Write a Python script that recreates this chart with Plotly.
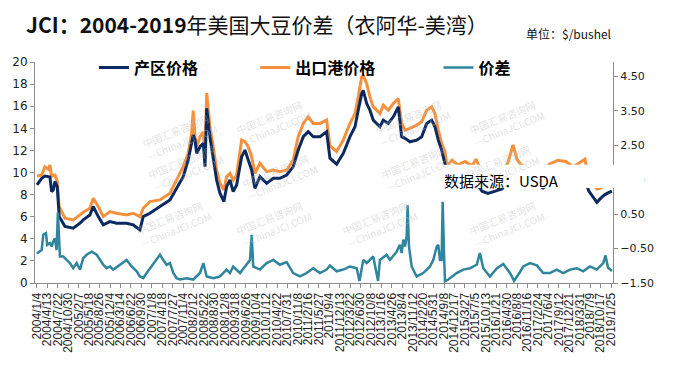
import plotly.graph_objects as go
import pandas as pd

# ---------------- data ----------------
price_dates = [
    "2004-01-04", "2004-02-18", "2004-03-20", "2004-04-21", "2004-05-07", "2004-05-23",
    "2004-06-08", "2004-06-24", "2004-07-16", "2004-08-04", "2004-09-28", "2004-12-16",
    "2005-02-19", "2005-03-22", "2005-05-25", "2005-06-26", "2005-08-13", "2005-09-30",
    "2005-12-03", "2006-02-05", "2006-05-12", "2006-07-14", "2006-09-16", "2006-10-18",
    "2006-12-21", "2007-03-27", "2007-07-01", "2007-09-03", "2007-11-05", "2007-12-23",
    "2008-01-25", "2008-02-09", "2008-02-26", "2008-03-13", "2008-04-14", "2008-05-16",
    "2008-06-01", "2008-06-17", "2008-07-18", "2008-08-19", "2008-09-20", "2008-10-22",
    "2008-11-29", "2008-12-25", "2009-01-26", "2009-02-26", "2009-03-31", "2009-05-18",
    "2009-06-19", "2009-07-20", "2009-08-22", "2009-09-22", "2009-11-09", "2010-01-13",
    "2010-03-17", "2010-05-20", "2010-07-23", "2010-09-24", "2010-11-11", "2010-12-30",
    "2011-02-15", "2011-04-04", "2011-06-07", "2011-08-10", "2011-09-11", "2011-11-14",
    "2012-01-17", "2012-03-21", "2012-05-08", "2012-06-08", "2012-07-11", "2012-07-26",
    "2012-08-28", "2012-09-28", "2012-10-30", "2012-12-01", "2013-01-02", "2013-02-03",
    "2013-03-23", "2013-05-10", "2013-06-27", "2013-07-29", "2013-08-30", "2013-10-17",
    "2013-12-20", "2014-02-06", "2014-03-26", "2014-05-13", "2014-06-13", "2014-07-15",
    "2014-08-16", "2014-09-17", "2014-10-06", "2014-11-23", "2015-01-20", "2015-03-28",
    "2015-06-03", "2015-07-11", "2015-09-07", "2015-11-03", "2016-01-09", "2016-03-16",
    "2016-05-13", "2016-06-30", "2016-08-07", "2016-09-14", "2016-11-20", "2017-01-26",
    "2017-04-13", "2017-06-19", "2017-09-04", "2017-11-19", "2018-01-25", "2018-04-03",
    "2018-05-20", "2018-06-28", "2018-08-05", "2018-09-12", "2018-10-21", "2018-11-28",
    "2019-01-05", "2019-02-03",
]
producer_price = [  # 产区价格
    8.87, 9.47, 9.68, 9.62, 9.60, 8.27, 8.42, 9.17, 8.72, 6.01, 5.11, 4.96,
    5.41, 5.71, 6.16, 6.92, 6.01, 5.26, 5.56, 5.41, 5.41, 5.26, 4.81, 6.01,
    6.31, 6.92, 7.52, 8.57, 9.62, 11.13, 12.63, 13.40, 12.93, 11.73, 12.33, 12.63,
    10.53, 15.80, 13.24, 11.13, 9.32, 8.12, 7.37, 8.72, 9.32, 8.27, 8.87, 11.43,
    12.03, 11.13, 10.23, 8.57, 9.62, 9.02, 9.47, 9.47, 9.77, 10.53, 12.03, 13.24,
    13.69, 13.24, 13.24, 13.69, 11.30, 10.75, 11.73, 13.24, 14.14, 15.64, 17.14, 17.44,
    16.24, 15.64, 14.74, 14.44, 14.14, 14.74, 14.44, 15.04, 15.94, 13.24, 13.09, 12.78,
    12.93, 13.24, 14.44, 14.74, 14.14, 12.93, 12.03, 10.80, 8.70, 9.20, 9.40, 9.30,
    9.00, 9.10, 8.30, 8.10, 8.30, 8.50, 9.20, 10.60, 10.00, 9.30, 9.00, 9.10,
    8.60, 9.00, 9.40, 9.30, 9.00, 9.10, 9.20, 8.30, 7.80, 7.30, 7.70, 8.00,
    8.20, 8.30,
]
export_price = [  # 出口港价格
    9.68, 9.78, 10.52, 10.30, 10.68, 9.62, 9.78, 9.78, 9.17, 6.91, 5.86, 5.71,
    6.16, 6.40, 6.76, 7.67, 6.92, 6.01, 6.46, 6.31, 6.16, 6.31, 6.01, 6.76,
    7.37, 7.52, 8.12, 9.32, 10.53, 11.73, 13.54, 15.60, 13.24, 12.33, 13.24, 13.69,
    11.43, 17.20, 14.14, 12.33, 10.23, 9.02, 8.42, 9.62, 9.92, 9.32, 9.77, 12.93,
    12.78, 12.33, 11.43, 9.92, 10.83, 10.08, 10.23, 10.08, 10.23, 11.13, 13.24, 14.44,
    15.04, 14.44, 14.44, 14.74, 12.40, 11.90, 12.93, 14.44, 15.34, 16.84, 18.64, 18.79,
    18.04, 16.84, 15.94, 15.64, 15.34, 16.09, 15.64, 16.24, 16.69, 14.44, 13.84, 13.99,
    14.29, 14.59, 15.64, 15.94, 15.34, 13.84, 12.63, 11.90, 10.60, 11.10, 10.70, 11.00,
    10.60, 11.20, 10.00, 9.60, 9.80, 10.00, 10.90, 12.50, 11.20, 10.70, 10.40, 10.50,
    10.20, 10.80, 11.10, 11.00, 10.50, 10.90, 11.20, 9.40, 9.00, 8.50, 8.60, 9.00,
    9.20, 9.30,
]

spread_dates = [
    "2004-01-04", "2004-01-16", "2004-02-18", "2004-03-04", "2004-03-30", "2004-04-11",
    "2004-05-07", "2004-05-23", "2004-06-08", "2004-06-24", "2004-07-10", "2004-07-22",
    "2004-08-11", "2004-09-12", "2004-10-14", "2004-11-15", "2004-12-16", "2005-01-18",
    "2005-02-19", "2005-03-22", "2005-04-24", "2005-06-11", "2005-07-29", "2005-08-30",
    "2005-09-30", "2005-11-02", "2005-12-03", "2006-01-04", "2006-03-09", "2006-05-12",
    "2006-06-29", "2006-08-16", "2006-09-16", "2006-10-18", "2006-11-20", "2007-01-07",
    "2007-02-23", "2007-03-27", "2007-04-28", "2007-05-30", "2007-07-01", "2007-08-02",
    "2007-09-03", "2007-10-05", "2007-12-08", "2008-02-09", "2008-04-14", "2008-05-16",
    "2008-06-17", "2008-08-19", "2008-10-22", "2008-12-25", "2009-01-26", "2009-02-26",
    "2009-05-02", "2009-07-05", "2009-08-06", "2009-08-22", "2009-09-06", "2009-11-09",
    "2010-01-13", "2010-03-17", "2010-05-20", "2010-07-23", "2010-09-24", "2010-11-28",
    "2011-01-31", "2011-04-04", "2011-06-07", "2011-08-10", "2011-09-11", "2011-11-14",
    "2012-01-17", "2012-03-21", "2012-05-24", "2012-06-20", "2012-07-26", "2012-08-28",
    "2012-10-30", "2012-12-15", "2013-01-02", "2013-03-07", "2013-04-08", "2013-06-11",
    "2013-07-13", "2013-07-29", "2013-08-14", "2013-08-30", "2013-09-15", "2013-09-24",
    "2013-10-07", "2013-11-02", "2013-12-20", "2014-02-21", "2014-04-26", "2014-05-28",
    "2014-06-30", "2014-07-15", "2014-07-31", "2014-08-16", "2014-08-26", "2014-09-08",
    "2014-09-17", "2014-10-19", "2015-01-07", "2015-03-12", "2015-05-15", "2015-07-18",
    "2015-08-18", "2015-09-19", "2015-11-22", "2016-01-26", "2016-03-29", "2016-06-01",
    "2016-07-10", "2016-09-05", "2016-10-06", "2016-12-10", "2017-02-12", "2017-04-16",
    "2017-06-19", "2017-08-22", "2017-10-25", "2017-12-28", "2018-03-02", "2018-05-04",
    "2018-07-07", "2018-09-10", "2018-11-12", "2018-12-03", "2018-12-27", "2019-02-03",
]
spread = [  # 价差 (right axis)
    -0.65, -0.61, -0.54, -0.10, -0.05, -0.39, -0.34, -0.44, -0.29, -0.20, -0.54, 0.55,
    -0.73, -0.73, -0.83, -0.92, -1.07, -0.92, -1.11, -0.78, -0.68, -0.59, -0.68, -0.83,
    -0.97, -1.07, -1.02, -1.11, -0.97, -0.83, -1.02, -1.16, -1.31, -1.36, -1.21, -1.02,
    -0.83, -0.68, -0.83, -0.97, -0.92, -1.21, -1.36, -1.40, -1.36, -1.40, -1.21, -0.92,
    -1.31, -1.36, -1.31, -1.11, -1.21, -1.02, -1.21, -0.97, -0.83, -0.10, -1.02, -1.11,
    -0.92, -0.83, -0.97, -0.89, -1.21, -1.31, -1.21, -1.07, -1.21, -1.11, -0.99, -1.16,
    -1.11, -1.02, -1.07, -1.44, -0.83, -0.92, -0.73, -1.44, -0.83, -0.68, -0.83, -0.59,
    -0.39, -0.63, -0.24, -0.44, -0.15, 0.76, -0.44, -1.02, -1.31, -1.21, -1.02, -0.83,
    -0.44, -0.39, -0.83, -0.83, 0.86, -0.63, -1.45, -1.40, -1.21, -1.11, -1.07, -0.97,
    -0.63, -1.07, -1.31, -1.08, -0.95, -1.21, -1.44, -1.18, -1.02, -0.92, -0.99, -1.21,
    -1.21, -1.11, -1.21, -1.11, -1.07, -1.16, -1.02, -1.11, -0.92, -0.70, -1.05, -1.15,
]

tick_labels = [
    "2004/1/4", "2004/4/13", "2004/7/22", "2004/10/30", "2005/2/7", "2005/5/18",
    "2005/8/26", "2005/12/4", "2006/3/14", "2006/6/22", "2006/9/30", "2007/1/8",
    "2007/4/18", "2007/7/27", "2007/11/4", "2008/2/12", "2008/5/22", "2008/8/30",
    "2008/12/8", "2009/3/18", "2009/6/26", "2009/10/4", "2010/1/12", "2010/4/22",
    "2010/7/31", "2010/11/8", "2011/2/16", "2011/5/27", "2011/9/4", "2011/12/13",
    "2012/3/22", "2012/6/30", "2012/10/8", "2013/1/16", "2013/4/26", "2013/8/4",
    "2013/11/12", "2014/2/20", "2014/5/31", "2014/9/8", "2014/12/17", "2015/3/27",
    "2015/7/5", "2015/10/13", "2016/1/21", "2016/4/30", "2016/8/8", "2016/11/16",
    "2017/2/24", "2017/6/4", "2017/9/12", "2017/12/21", "2018/3/31", "2018/7/9",
    "2018/10/17", "2019/1/25",
]
left_ticks = [0, 2, 4, 6, 8, 10, 12, 14, 16, 18, 20]
right_ticks = [-1.5, -0.5, 0.5, 1.5, 2.5, 3.5, 4.5]

# ---------------- figure ----------------
NAVY = "#0c2a5f"
ORANGE = "#f5913c"
TEAL = "#2f849e"
CJK = "Noto Sans CJK SC"
AX = "#8c8c8c"

tick_vals = pd.to_datetime(tick_labels, format="%Y/%m/%d")

fig = go.Figure()
fig.add_trace(go.Scatter(x=price_dates, y=export_price, name="出口港价格", mode="lines",
                         line=dict(color=ORANGE, width=3), legend="legend2"))
fig.add_trace(go.Scatter(x=price_dates, y=producer_price, name="产区价格", mode="lines",
                         line=dict(color=NAVY, width=3), legend="legend"))
fig.add_trace(go.Scatter(x=spread_dates, y=spread, name="价差", mode="lines",
                         line=dict(color=TEAL, width=2.5), yaxis="y2", legend="legend3"))

legend_common = dict(yanchor="middle", xanchor="left", y=0.975,
                     bgcolor="rgba(0,0,0,0)", borderwidth=0,
                     font=dict(family=CJK, size=16, color="#000000", weight="bold"))
annotations = [
    dict(text="<b>JCI：2004-2019</b>年美国大豆价差（衣阿华-美湾）", xref="paper", yref="paper",
         x=-0.019, y=1.170, xanchor="left", yanchor="middle", showarrow=False,
         font=dict(family=CJK, size=21, color="#111111")),
    dict(text="单位：$/bushel", xref="paper", yref="paper", x=0.846, y=1.131,
         xanchor="left", yanchor="middle", showarrow=False,
         font=dict(family=CJK, size=12, color="#111111")),
]

# faint watermark
wm_pos = [(0.17, 0.80), (0.41, 0.86), (0.65, 0.86), (0.89, 0.86),
          (0.18, 0.52), (0.42, 0.48), (0.66, 0.52), (0.88, 0.52),
          (0.16, 0.13), (0.41, 0.13), (0.67, 0.13), (0.89, 0.13)]
for wx, wy in wm_pos:
    annotations.append(dict(text="中国汇易咨询网<br>  —ChinaJCI.COM", xref="paper", yref="paper",
                            x=wx, y=wy, showarrow=False, textangle=-22,
                            font=dict(family=CJK, size=10, color="rgba(190,190,190,0.45)")))

annotations.append(dict(text="数据来源：USDA", xref="paper", yref="paper", x=0.704, y=0.462,
                        xanchor="left", yanchor="middle", showarrow=False,
                        font=dict(family=CJK, size=15, color="#000000")))

fig.update_layout(
    width=679, height=370,
    margin=dict(l=35, r=66, t=62, b=87),
    paper_bgcolor="white", plot_bgcolor="white",
    showlegend=True,
    legend=dict(x=0.102, **legend_common),
    legend2=dict(x=0.381, **legend_common),
    legend3=dict(x=0.698, **legend_common),
    xaxis=dict(type="date", range=["2003-12-16", "2019-02-13"],
               tickmode="array", tickvals=tick_vals, ticktext=tick_labels,
               tickangle=-90, ticks="outside", ticklen=4, tickcolor=AX,
               showline=True, linecolor=AX, showgrid=False, zeroline=False,
               tickfont=dict(family="Liberation Sans", size=12, color="#222222")),
    yaxis=dict(range=[0, 20], tickmode="array", tickvals=left_ticks,
               ticks="outside", ticklen=4, tickcolor=AX,
               showline=True, linecolor=AX, showgrid=False, zeroline=False,
               tickfont=dict(family="DejaVu Sans", size=12, color="#222222")),
    yaxis2=dict(range=[-1.5, 4.92], overlaying="y", side="right", tickmode="array",
                tickvals=right_ticks, tickformat=".2f",
                ticks="outside", ticklen=4, tickcolor=AX,
                showline=True, linecolor=AX, showgrid=False, zeroline=False,
                tickfont=dict(family="DejaVu Sans", size=11, color="#222222")),
    annotations=annotations,
    shapes=[dict(type="rect", xref="paper", yref="paper", x0=0.694, x1=1.054,
                 y0=0.430, y1=0.535, fillcolor="white", line=dict(width=0),
                 layer="above")],
)

fig.write_html("out.html", config={"displayModeBar": False},
               post_script="document.body.style.margin='0px';")
